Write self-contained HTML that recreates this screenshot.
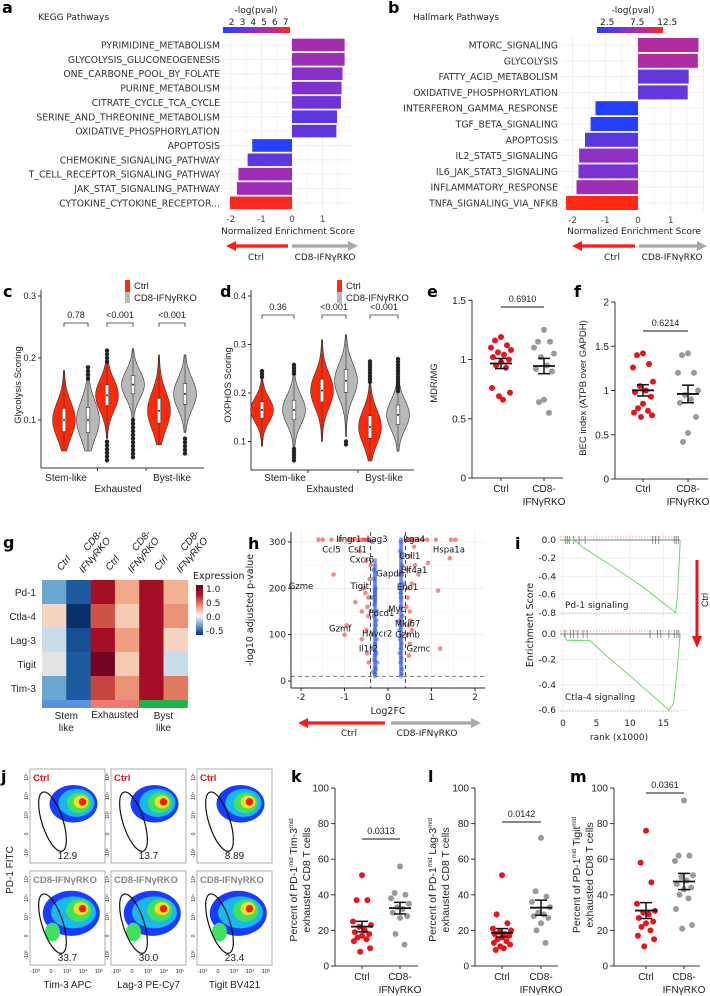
<!DOCTYPE html>
<html><head><meta charset="utf-8"><style>
html,body{margin:0;padding:0;background:#fff;}
svg{display:block;}
</style></head><body>
<svg id="fig" width="710" height="996" viewBox="0 0 710 996" xmlns="http://www.w3.org/2000/svg">
<defs>
<linearGradient id="pgrad" x1="0" x2="1" y1="0" y2="0"><stop offset="0" stop-color="#2040ff"/><stop offset="0.45" stop-color="#8a30c8"/><stop offset="0.75" stop-color="#c02a90"/><stop offset="1" stop-color="#ff2a10"/></linearGradient>
<linearGradient id="hgrad" x1="0" x2="0" y1="0" y2="1"><stop offset="0" stop-color="#67001f"/><stop offset="0.2" stop-color="#b2182b"/><stop offset="0.45" stop-color="#f4a582"/><stop offset="0.62" stop-color="#f7f7f7"/><stop offset="0.8" stop-color="#6aa6d0"/><stop offset="1" stop-color="#08306b"/></linearGradient>
</defs>
</svg>
<script>
// ---------- DATA ----------
const keggPathways=["PYRIMIDINE_METABOLISM","GLYCOLYSIS_GLUCONEOGENESIS","ONE_CARBONE_POOL_BY_FOLATE","PURINE_METABOLISM","CITRATE_CYCLE_TCA_CYCLE","SERINE_AND_THREONINE_METABOLISM","OXIDATIVE_PHOSPHORYLATION","APOPTOSIS","CHEMOKINE_SIGNALING_PATHWAY","T_CELL_RECEPTOR_SIGNALING_PATHWAY","JAK_STAT_SIGNALING_PATHWAY","CYTOKINE_CYTOKINE_RECEPTOR..."];
const keggNES=[1.72,1.72,1.65,1.62,1.6,1.47,1.45,-1.3,-1.45,-1.75,-1.8,-2.03];
const keggLogP=[4.9,4.6,3.9,3.7,3.3,2.7,2.9,1.4,2.8,4.6,4.6,7.2];
const keggTicks=[-2,-1,0,1];
const keggCbarTicks=[2,3,4,5,6,7];
const hallPathways=["MTORC_SIGNALING","GLYCOLYSIS","FATTY_ACID_METABOLISM","OXIDATIVE_PHOSPHORYLATION","INTERFERON_GAMMA_RESPONSE","TGF_BETA_SIGNALING","APOPTOSIS","IL2_STAT5_SIGNALING","IL6_JAK_STAT3_SIGNALING","INFLAMMATORY_RESPONSE","TNFA_SIGNALING_VIA_NFKB"];
const hallNES=[1.85,1.83,1.55,1.52,-1.3,-1.45,-1.62,-1.8,-1.82,-1.88,-2.2];
const hallLogP=[8,8,4,4,1,1,3.5,6,5,7,12.5];
const hallCbarTicks=[2.5,7.5,12.5];

const glyMed=[0.10,0.10,0.14,0.157,0.115,0.142];
const glySd=[0.028,0.03,0.025,0.022,0.03,0.025];
const glyLo=[0.05,0.05,0.07,0.09,0.06,0.08];
const glyHi=[0.18,0.185,0.212,0.215,0.205,0.205];
const glyP=["0.78","<0.001","<0.001"];
const glyTicks=[0.1,0.2,0.3];
const oxMed=[0.165,0.165,0.205,0.225,0.13,0.155];
const oxSd=[0.025,0.03,0.035,0.035,0.035,0.03];
const oxLo=[0.09,0.09,0.1,0.11,0.06,0.08];
const oxHi=[0.245,0.258,0.31,0.32,0.265,0.27];
const oxP=["0.36","<0.001","<0.001"];
const oxTicks=[0.1,0.2,0.3,0.4];

const mdrCtrl=[1.19,1.16,1.12,1.1,1.08,1.06,1.04,1.02,1.0,0.98,0.95,0.93,0.76,0.72,0.69,0.66];
const mdrKO=[1.25,1.15,1.15,1.1,1.05,1.02,0.95,0.92,0.9,0.66,0.64,0.55];
const becCtrl=[1.42,1.4,1.3,1.26,1.1,1.05,1.0,0.98,0.93,0.85,0.8,0.77,0.75,0.72,0.7];
const becKO=[1.42,1.4,1.2,1.2,1.0,0.95,0.9,0.86,0.7,0.52,0.42];

const hmRows=["Pd-1","Ctla-4","Lag-3","Tigit","Tim-3"];
const hmCols=["Ctrl","CD8-IFNγRKO","Ctrl","CD8-IFNγRKO","Ctrl","CD8-IFNγRKO"];
const hmPd1=[-0.3,-0.6,1.0,0.4,1.0,0.35];
const hmCtla4=[0.15,-0.8,0.75,0.2,1.0,0.5];
const hmLag3=[-0.1,-0.65,1.0,0.45,1.0,0.15];
const hmTigit=[0.0,-0.6,1.2,0.2,1.0,-0.1];
const hmTim3=[-0.3,-0.6,0.8,0.5,1.0,0.6];

const volRedFC=[-1.6,-1.5,-1.3,-1.1,-0.9,-0.8,-0.7,-0.6,-0.55,-0.5,-0.45,-0.42,-1.0,-0.95,-1.25,-0.75,-0.6,-0.55,-0.5,-0.45,-0.6,-0.5,-0.45,-0.42,-0.48,-0.44,-0.4,-0.65,-0.52,-0.47,0.45,0.5,0.55,0.6,0.7,0.8,0.9,1.1,1.45,1.55,1.42,1.2,1.15,0.5,0.45,0.55,0.45,0.5,0.48,0.44,0.5,0.46,0.42,0.52,0.6,0.7,0.62,0.48,0.92,0.55];
const volRedP=[305,305,305,305,305,305,305,305,305,305,305,305,100,120,230,170,150,200,260,140,90,110,180,220,60,40,250,280,190,160,305,305,305,305,305,305,305,305,305,305,265,70,195,270,240,210,180,150,120,100,80,200,160,130,290,230,250,55,255,110];
const volBlueFC=[-0.35,-0.3,-0.32,-0.38,-0.3,-0.28,-0.33,-0.3,-0.27,-0.31,-0.29,-0.34,-0.36,-0.26,-0.3,-0.32,-0.25,-0.28,-0.31,-0.29,-0.33,-0.27,-0.3,-0.3,0.3,0.28,0.32,0.27,0.31,0.3,0.29,0.33,0.28,0.3,0.31,0.27,0.29,0.32,0.35,0.26,0.3,0.34,0.28,0.3,0.31,0.29,0.27,0.3];
const volBlueP=[300,260,220,180,150,120,100,80,60,45,30,20,70,90,110,140,40,25,165,200,240,130,15,55,305,280,250,230,200,180,160,140,120,100,80,60,40,25,210,130,300,270,90,70,15,190,110,50];
const volLabels=["Ifngr1","Ccl5","Csf1","Lag3","Cxcr6","Gapdh","Tigit","Gzme","Itga4","Hspa1a","Coll1","Elf4a1","Eno1","Pdcd1","Myc","Mki67","Gzmf","Havcr2","Gzmb","Il1r2","Gzmc"];
const volLabelFC=[-0.9,-1.3,-0.7,-0.25,-0.6,0.05,-0.65,-2.0,0.6,1.4,0.5,0.6,0.45,-0.15,0.2,0.45,-1.1,-0.25,0.45,-0.45,0.7];
const volLabelP=[306,284,284,306,262,232,205,205,306,284,270,240,203,147,155,124,113,103,100,70,70];
const volTicksX=[-2,-1,0,1,2];
const volTicksY=[0,100,200,300];

const pdRank=[0,0.6,1.2,1.6,3,8,12,16.8,17.1,17.5];
const pdES=[0,-0.02,0,0,-0.08,-0.32,-0.52,-0.8,-0.6,0];
const pdHits=[0.4,0.7,1.0,1.6,2.4,3.3,13.4,13.8,14.3,16.6,16.9,17.2];
const ctRank=[0,0.6,1.5,4,6,10,15,15.8,16.5,17,17.5];
const ctES=[0,-0.05,-0.05,-0.05,-0.15,-0.33,-0.56,-0.6,-0.55,-0.3,0];
const ctHits=[0.3,1.1,1.6,2.2,3.0,3.6,13.0,14.1,14.6,15.8,16.6,17.0,17.3];
const rankTicks=[0,5,10,15];
const pdESTicks=[0,-0.2,-0.4,-0.6,-0.8];
const ctESTicks=[0,-0.2,-0.4,-0.6];

const flowPct=["12.9","13.7","8.89","33.7","30.0","23.4"];
const flowX=["Tim-3 APC","Lag-3 PE-Cy7","Tigit BV421"];

const kCtrl=[51,37,37,25,23,22,20,19,18,17,16,15,14,10,8];
const kKO=[56,41,40,38,35,33,32,30,28,27,18,12];
const lCtrl=[51,29,24,21,20,19,18,18,17,16,15,14,13,12,11,10,9];
const lKO=[72,42,39,36,33,30,29,28,27,24,20,13];
const mCtrl=[76,58,47,35,31,30,29,27,25,24,22,20,17,15,11];
const mKO=[93,62,62,59,51,50,48,46,44,43,40,38,32,23,21];
const pctTicks=[0,20,40,60,80,100];

// ---------- HELPERS ----------
const NS='http://www.w3.org/2000/svg';
const svg=document.getElementById('fig');
const DV='"DejaVu Sans", sans-serif';
const LS='"Liberation Sans", "DejaVu Sans", sans-serif';
function mk(tag,attrs,parent,name){
  const e=document.createElementNS(NS,tag);
  for(const k in attrs) e.setAttribute(k,attrs[k]);
  
  
  (parent||svg).appendChild(e);
  return e;
}
function T(parent,x,y,s,size,anchor,name,extra){
  const a={x:x,y:y,'font-size':size,'text-anchor':anchor||'start','font-family':LS,fill:'#222'};
  if(extra) for(const k in extra) a[k]=extra[k];
  const t=mk('text',a,parent,name);
  t.textContent=s;
  return t;
}
function L(parent,x1,y1,x2,y2,stroke,w,name,extra){
  const a={x1:x1,y1:y1,x2:x2,y2:y2,stroke:stroke,'stroke-width':w};
  if(extra) for(const k in extra) a[k]=extra[k];
  return mk('line',a,parent,name);
}
function arrow(parent,x1,x2,y,color,name){
  const dir=x2>x1?1:-1;
  L(parent,x1,y,x2-dir*9,y,color,3.2,name+'-shaft');
  mk('polygon',{points:`${x2},${y} ${x2-dir*10},${y-5} ${x2-dir*10},${y+5}`,fill:color},parent,name+'-head');
}
function lerpColor(c1,c2,t){
  const a=parseInt(c1.slice(1),16),b=parseInt(c2.slice(1),16);
  const r=Math.round(((a>>16)&255)*(1-t)+((b>>16)&255)*t);
  const g=Math.round(((a>>8)&255)*(1-t)+((b>>8)&255)*t);
  const bl=Math.round((a&255)*(1-t)+(b&255)*t);
  return `rgb(${r},${g},${bl})`;
}
function stopScale(stops,v){
  if(v<=stops[0][0]) return stops[0][1];
  for(let i=1;i<stops.length;i++){
    if(v<=stops[i][0]){const t=(v-stops[i-1][0])/(stops[i][0]-stops[i-1][0]);return lerpColor(stops[i-1][1],stops[i][1],t);}
  }
  return stops[stops.length-1][1];
}
const pStops=[[0,'#2040ff'],[0.45,'#8a30c8'],[0.75,'#c02a90'],[1,'#ff2a10']];
const hStops=[[-0.8,'#08306b'],[-0.55,'#2166ac'],[-0.3,'#6aa6d0'],[-0.1,'#c8dcea'],[0.05,'#f2e6e0'],[0.2,'#f7cbb3'],[0.45,'#f0a080'],[0.7,'#d6604d'],[1.0,'#a50f26'],[1.25,'#67001f']];

// ---------- PANELS A / B ----------
function barPanel(name,letter,title,labels,nes,logp,c){
  const g=mk('g',{},svg,name);
  T(g,c.letterX,c.letterY,letter,16,'start',name+'-letter',{'font-weight':'bold','font-family':DV,fill:'#000'});
  T(g,c.titleX,20,title,9,'start',name+'-title',{'font-family':DV});
  const X=v=>c.zero+v*c.unit;
  const y0=c.y0, y1=c.y0+(labels.length-1)*c.step;
  for(let v=-2.5;v<=2.0;v+=0.5){const x=X(v); if(x<c.px1||x>c.px2) continue; L(g,x,y0-c.step/2,x,y1+c.step/2,Number.isInteger(v)?'#e8e8e8':'#f3f3f3',0.8,name+'-vgrid');}
  labels.forEach((lab,i)=>{const y=y0+i*c.step; L(g,c.px1,y,c.px2,y,'#ececec',0.8,name+'-hgrid');});
  labels.forEach((lab,i)=>{
    const y=y0+i*c.step; const v=nes[i];
    const t=(logp[i]-c.cmin)/(c.cmax-c.cmin);
    mk('rect',{x:Math.min(X(0),X(v)),y:y-c.barH/2,width:Math.abs(X(v)-X(0)),height:c.barH,fill:stopScale(pStops,Math.max(0,Math.min(1,t)))},g,name+'-bar');
    T(g,c.labelX,y+3.5,lab,c.lfs,'end',name+'-pathway-label',{'font-family':DV,fill:'#333'});
  });
  keggTicks.forEach(v=>T(g,X(v),y1+c.step/2+12,String(v),9,'middle',name+'-x-tick',{'font-family':DV,fill:'#444'}));
  mk('rect',{x:c.cbx1,y:27,width:c.cbx2-c.cbx1,height:6,fill:'url(#pgrad)'},g,name+'-colorbar');
  T(g,c.cbTitleX,13,'-log(pval)',9,'middle',name+'-colorbar-title',{'font-family':DV});
  c.cbTicks.forEach(v=>T(g,c.cbx1+(v-c.cmin)/(c.cmax-c.cmin)*(c.cbx2-c.cbx1),25,String(v),9,'middle',name+'-colorbar-tick',{'font-family':DV}));
  T(g,c.nesX,234,'Normalized Enrichment Score',9,'middle',name+'-x-title',{'font-family':DV});
  arrow(g,c.arrowMid-2,c.arrowL,246,'#ff1a1a',name+'-ctrl-arrow');
  arrow(g,c.arrowMid+2,c.arrowR,246,'#a8a8a8',name+'-ko-arrow');
  T(g,c.ctrlX,260,'Ctrl',9,'middle',name+'-ctrl-label',{'font-family':DV});
  T(g,c.koX,260,'CD8-IFNγRKO',9,'middle',name+'-ko-label',{'font-family':DV});
}
barPanel('panel-a','a','KEGG Pathways',keggPathways,keggNES,keggLogP,{letterX:2,letterY:13,titleX:38,zero:292,unit:30.6,y0:45,step:14.35,barH:12.6,labelX:220,lfs:9.3,px1:215,px2:352,cmin:1.2,cmax:7.4,cbx1:223,cbx2:290,cbTicks:keggCbarTicks,cbTitleX:256,nesX:288,arrowL:226,arrowR:358,arrowMid:290,ctrlX:256,koX:325});
barPanel('panel-b','b','Hallmark Pathways',hallPathways,hallNES,hallLogP,{letterX:388,letterY:13,titleX:413,zero:638,unit:32.7,y0:45,step:15.8,barH:14,labelX:558,lfs:9.3,px1:562,px2:705,cmin:0.8,cmax:11.8,cbx1:597,cbx2:663,cbTicks:hallCbarTicks,cbTitleX:633,nesX:634,arrowL:572,arrowR:707,arrowMid:637,ctrlX:612,koX:672});

// ---------- VIOLINS C / D ----------
function violinPanel(name,letter,c,med,sd,lo,hi,pv,ticks,ytitle){
  const g=mk('g',{},svg,name);
  T(g,c.letterX,297,letter,16,'start',name+'-letter',{'font-weight':'bold','font-family':DV,fill:'#000'});
  const Y=v=>c.yRef-(v-c.vRef)*c.ppu;
  L(g,c.ax,c.yTop,c.ax,c.yBot,'#333',1,name+'-y-axis');
  L(g,c.ax,c.yBot,c.axR,c.yBot,'#333',1,name+'-x-axis');
  ticks.forEach(v=>{L(g,c.ax-3,Y(v),c.ax,Y(v),'#333',1,name+'-y-tickmark');T(g,c.ax-5,Y(v)+3,String(v),9,'end',name+'-y-tick');});
  T(g,0,0,ytitle,9.5,'middle',name+'-y-title',{transform:`translate(${c.ax-20},${c.yTitleY}) rotate(-90)`});
  med.forEach((m,i)=>{
    const cx=c.xs[i]; const col=i%2===0?'#ff2a0a':'#b8b8b8';
    let right=[],left=[];
    for(let k=0;k<=40;k++){
      const v=lo[i]+(hi[i]-lo[i])*k/40;
      const hw=c.W*Math.exp(-0.5*Math.pow((v-m)/sd[i],2))+0.4;
      right.push(`${cx+hw},${Y(v)}`); left.unshift(`${cx-hw},${Y(v)}`);
    }
    mk('polygon',{points:right.concat(left).join(' '),fill:col,stroke:'#333','stroke-width':0.6},g,name+'-violin');
    L(g,cx,Y(hi[i]),cx,Y(lo[i]),'#333',0.6,name+'-whisker');
    mk('rect',{x:cx-1.8,y:Y(m+0.67*sd[i]),width:3.6,height:1.34*sd[i]*c.ppu,fill:'#fff',stroke:'#333','stroke-width':0.6},g,name+'-box');
    mk('circle',{cx:cx,cy:Y(m),r:1,fill:'#222'},g,name+'-median');
  });
  c.outIdx.forEach((i,j)=>{
    for(let v=c.outFrom[j];v>=c.outTo[j];v-=0.006) mk('circle',{cx:c.xs[i],cy:Y(v),r:2.2,fill:'#222'},g,name+'-outlier');
  });
  pv.forEach((p,j)=>{
    const x1=c.xs[2*j],x2=c.xs[2*j+1];
    mk('path',{d:`M${x1},${c.bY+4}V${c.bY}H${x2}V${c.bY+4}`,fill:'none',stroke:'#333','stroke-width':0.8},g,name+'-bracket');
    T(g,(x1+x2)/2,c.bY-5,p,9,'middle',name+'-p-value');
  });
  for(let j=1;j<3;j++){const xm=(c.xs[2*j-1]+c.xs[2*j])/2;L(g,xm,c.yBot,xm,c.yBot+3,'#333',1,name+'-group-tick');}
  T(g,c.gx[0],481,'Stem-like',10,'middle',name+'-group-label');
  T(g,c.gx[1],492,'Exhausted',10,'middle',name+'-group-label');
  T(g,c.gx[2],481,'Byst-like',10,'middle',name+'-group-label');
  mk('rect',{x:c.legX,y:280,width:5,height:12,fill:'#ff2a0a'},g,name+'-legend-ctrl-swatch');
  mk('rect',{x:c.legX,y:292,width:5,height:11,fill:'#b8b8b8'},g,name+'-legend-ko-swatch');
  T(g,c.legX+9,289,'Ctrl',9.5,'start',name+'-legend-ctrl');
  T(g,c.legX+9,301,'CD8-IFNγRKO',9.5,'start',name+'-legend-ko');
}
violinPanel('panel-c','c',{letterX:3,ax:41,axR:204,yTop:290,yBot:468,yRef:420,vRef:0.1,ppu:620,W:11,xs:[64,88,107,133,159,185],yTitleY:385,bY:323,gx:[66,118,172],legX:125,outIdx:[1,2,2,3,5],outFrom:[0.185,0.212,0.065,0.1,0.07],outTo:[0.165,0.19,0.035,0.035,0.045]},glyMed,glySd,glyLo,glyHi,glyP,glyTicks,'Glycolysis Scoring');
violinPanel('panel-d','d',{letterX:220,ax:251,axR:414,yTop:290,yBot:470,yRef:393,vRef:0.2,ppu:485,W:11,xs:[262,294,322,346,370,398],yTitleY:385,bY:315,gx:[285,330,384],legX:337,outIdx:[0,1,1,3,4,5],outFrom:[0.245,0.258,0.085,0.1,0.265,0.27],outTo:[0.23,0.235,0.06,0.09,0.22,0.2]},oxMed,oxSd,oxLo,oxHi,oxP,oxTicks,'OXPHOS Scoring');

// ---------- DOT PLOTS ----------
function mean(a){return a.reduce((s,v)=>s+v,0)/a.length;}
function sem(a){const m=mean(a);return Math.sqrt(a.reduce((s,v)=>s+(v-m)*(v-m),0)/(a.length-1))/Math.sqrt(a.length);}
const jit=[0,-6,6,-10,10,-3,3,-8,8,0,-5,5,-9,9,-2,2,-7];
function dotPanel(name,letter,c,ctrl,ko,p,ticks,title){
  const g=mk('g',{},svg,name);
  T(g,c.letterX,c.letterY,letter,16,'start',name+'-letter',{'font-weight':'bold','font-family':DV,fill:'#000'});
  const Y=v=>c.y0-v*c.ppu;
  L(g,c.ax,Y(ticks[ticks.length-1]),c.ax,Y(0),'#333',1,name+'-y-axis');
  L(g,c.ax,Y(0),c.axR,Y(0),'#333',1,name+'-x-axis');
  ticks.forEach(v=>{L(g,c.ax-4,Y(v),c.ax,Y(v),'#333',1,name+'-y-tickmark');T(g,c.ax-6,Y(v)+3.5,String(v),c.fs,'end',name+'-y-tick');});
  [c.xc,c.xk].forEach(x=>L(g,x,Y(0),x,Y(0)+3,'#333',1,name+'-x-tickmark'));
  title.forEach((line,i)=>{const t=T(g,0,0,'',c.tfs||9.5,'middle',name+'-y-title',{transform:`translate(${c.tx[i]},${c.ty}) rotate(-90)`});
    line.forEach(part=>{const s=mk('tspan',part[1]?{'font-size':6,dy:-4}:{dy:part[2]||0},t,name+'-y-title-part');s.textContent=part[0];});});
  [[ctrl,c.xc,'#e8141c'],[ko,c.xk,'#9a9a9a']].forEach(([arr,x,col],gi)=>{
    arr.forEach((v,i)=>mk('circle',{cx:x+jit[i%jit.length]*c.js,cy:Y(v),r:3,fill:col},g,name+(gi?'-ko-point':'-ctrl-point')));
    const m=mean(arr),s=sem(arr);
    L(g,x-11,Y(m),x+11,Y(m),'#111',1.8,name+'-mean');
    L(g,x-6,Y(m+s),x+6,Y(m+s),'#111',1.5,name+'-sem-top');
    L(g,x-6,Y(m-s),x+6,Y(m-s),'#111',1.5,name+'-sem-bottom');
    L(g,x,Y(m+s),x,Y(m-s),'#111',1.5,name+'-sem-bar');
  });
  L(g,c.xc,c.pY,c.xk,c.pY,'#111',1,name+'-p-line');
  T(g,(c.xc+c.xk)/2,c.pY-5,p,9,'middle',name+'-p-value');
  T(g,c.xc,c.lY,'Ctrl',10,'middle',name+'-x-label-ctrl');
  T(g,c.xk,c.lY,'CD8-',10,'middle',name+'-x-label-ko');
  T(g,c.xk,c.lY+13,'IFNγRKO',10,'middle',name+'-x-label-ko2');
}
dotPanel('panel-e','e',{letterX:427,letterY:297,ax:472,axR:563,y0:478,ppu:118.5,xc:501,xk:544,js:1,pY:307,lY:492,fs:10,tx:[437],ty:383},mdrCtrl,mdrKO,'0.6910',[0,0.5,1.0,1.5],[[['MDR/MG']]]);
dotPanel('panel-f','f',{letterX:574,letterY:297,ax:615,axR:708,y0:479,ppu:88.5,xc:643,xk:688,js:1,pY:331,lY:492,fs:10,tx:[586],ty:388},becCtrl,becKO,'0.6214',[0,0.5,1.0,1.5,2.0],[[['BEC index (ATPB over GAPDH)']]]);
dotPanel('panel-k','k',{letterX:291,letterY:782,ax:335,axR:418,y0:966,ppu:1.78,xc:362,xk:400,js:0.9,pY:839,lY:980,fs:10,tfs:10.5,tx:[297,310],ty:880},kCtrl,kKO,'0.0313',pctTicks,[[['Percent of PD-1'],['mid',1],[' Tim-3',0,4],['mid',1]],[['exhausted CD8 T cells']]]);
dotPanel('panel-l','l',{letterX:428,letterY:782,ax:475,axR:558,y0:966,ppu:1.78,xc:502,xk:541,js:0.9,pY:822,lY:980,fs:10,tfs:10.5,tx:[436,449],ty:880},lCtrl,lKO,'0.0142',pctTicks,[[['Percent of PD-1'],['mid',1],[' Lag-3',0,4],['mid',1]],[['exhausted CD8 T cells']]]);
dotPanel('panel-m','m',{letterX:570,letterY:782,ax:614,axR:700,y0:966,ppu:1.78,xc:646,xk:684,js:0.9,pY:793,lY:980,fs:10,tfs:10.5,tx:[580,593],ty:875},mCtrl,mKO,'0.0361',pctTicks,[[['Percent of PD-1'],['mid',1],[' Tigit',0,4],['mid',1]],[['exhausted CD8 T cells']]]);

// ---------- HEATMAP G ----------
(function(){
  const g=mk('g',{},svg,'panel-g');
  T(g,3,548,'g',16,'start','panel-g-letter',{'font-weight':'bold','font-family':DV,fill:'#000'});
  const hm=[hmPd1,hmCtla4,hmLag3,hmTigit,hmTim3];
  const x0=42,cw=24.3,y0=580,rh=24;
  hm.forEach((row,r)=>{
    row.forEach((v,ci)=>mk('rect',{x:x0+ci*cw,y:y0+r*rh,width:cw+0.3,height:rh+0.3,fill:stopScale(hStops,v)},g,'heatmap-cell'));
    T(g,36,y0+r*rh+rh/2+4,hmRows[r],10,'end','heatmap-row-label');
  });
  L(g,x0+2*cw,y0+5*rh,x0+2*cw,y0+5*rh+8,'#222',0.6,'heatmap-separator');
  L(g,x0+4*cw,y0+5*rh,x0+4*cw,y0+5*rh+8,'#222',0.6,'heatmap-separator');
  ['#5b8fe0','#f07a72','#1fb14a'].forEach((col,i)=>mk('rect',{x:x0+i*2*cw,y:y0+5*rh,width:2*cw,height:8,fill:col},g,'group-bar'));
  hmCols.forEach((lab,ci)=>{
    const cx=x0+ci*cw+cw/2;
    const hg=mk('g',{transform:`translate(${cx+3},${576}) rotate(-50)`},g,'heatmap-col-header');
    if(lab==='Ctrl') T(hg,22,0,'Ctrl',10,'end','heatmap-col-label',{'font-style':'italic'});
    else {T(hg,46,-11,'CD8-',10,'end','heatmap-col-label',{'font-style':'italic'});
      T(hg,46,0,'IFNγRKO',10,'end','heatmap-col-label',{'font-style':'italic'});}
  });
  T(g,x0+cw,719,'Stem',10,'middle','group-label');T(g,x0+cw,731,'like',10,'middle','group-label');
  T(g,x0+3*cw,718,'Exhausted',10,'middle','group-label');
  T(g,x0+5*cw,719,'Byst',10,'middle','group-label');T(g,x0+5*cw,731,'like',10,'middle','group-label');
  T(g,193,579,'Expression',9.5,'start','legend-title',{'font-family':DV});
  mk('rect',{x:196,y:585,width:7,height:50,fill:'url(#hgrad)'},g,'legend-colorbar');
  [['1.0',592],['0.5',606],['0.0',620],['-0.5',634]].forEach(([s,y])=>T(g,206,y,s,9,'start','legend-tick',{'font-family':DV}));
})();

// ---------- VOLCANO H ----------
(function(){
  const g=mk('g',{},svg,'panel-h');
  T(g,248,549,'h',16,'start','panel-h-letter',{'font-weight':'bold','font-family':DV,fill:'#000'});
  const X=v=>388+v*43.5, Y=v=>681-v*0.4633;
  volTicksX.forEach(v=>L(g,X(v),532,X(v),688,'#ebebeb',0.8,'h-vgrid'));
  [-1.5,-0.5,0.5,1.5].forEach(v=>L(g,X(v),532,X(v),688,'#f4f4f4',0.6,'h-vgrid-minor'));
  volTicksY.forEach(v=>L(g,291,Y(v),485,Y(v),'#ebebeb',0.8,'h-hgrid'));
  [50,150,250].forEach(v=>L(g,291,Y(v),485,Y(v),'#f4f4f4',0.6,'h-hgrid-minor'));
  volBlueFC.forEach((v,i)=>mk('circle',{cx:X(v),cy:Y(volBlueP[i]),r:2.3,fill:'#3c64e0','fill-opacity':0.6},g,'h-point-ns'));
  for(let p=10;p<=300;p+=4){mk('circle',{cx:X(-0.3),cy:Y(p<200?p:p*0.85),r:2.2,fill:'#3c64e0','fill-opacity':0.45},g,'h-point-ns');
    mk('circle',{cx:X(0.3),cy:Y(p),r:2.2,fill:'#3c64e0','fill-opacity':0.45},g,'h-point-ns');}
  volRedFC.forEach((v,i)=>mk('circle',{cx:X(v),cy:Y(volRedP[i]),r:2.3,fill:'#ee2a2a','fill-opacity':0.55},g,'h-point-sig'));
  L(g,X(-0.4),532,X(-0.4),688,'#222',0.8,'h-fc-threshold',{'stroke-dasharray':'4,3'});
  L(g,X(0.4),532,X(0.4),688,'#222',0.8,'h-fc-threshold',{'stroke-dasharray':'4,3'});
  L(g,291,Y(10),485,Y(10),'#777',0.9,'h-p-threshold',{'stroke-dasharray':'4,3'});
  L(g,291,532,291,688,'#222',1,'h-y-axis');L(g,291,688,485,688,'#222',1,'h-x-axis');
  volTicksX.forEach(v=>{L(g,X(v),688,X(v),691,'#222',1,'h-x-tickmark');T(g,X(v),700,String(v),9,'middle','h-x-tick',{'font-family':DV});});
  volTicksY.forEach(v=>{L(g,288,Y(v),291,Y(v),'#222',1,'h-y-tickmark');T(g,286,Y(v)+3,String(v),9,'end','h-y-tick',{'font-family':DV});});
  volLabels.forEach((s,i)=>T(g,X(volLabelFC[i]),Y(volLabelP[i])+3,s,8.5,'middle','h-gene-label',{'font-family':DV,fill:'#111'}));
  T(g,0,0,'-log10 adjusted p-value',9.5,'middle','h-y-title',{transform:'translate(253,610) rotate(-90)','font-family':DV});
  T(g,388,714,'Log2FC',9.5,'middle','h-x-title',{'font-family':DV});
  arrow(g,385,298,723,'#ff1a1a','h-ctrl-arrow');
  arrow(g,391,481,723,'#a8a8a8','h-ko-arrow');
  T(g,349,736,'Ctrl',9,'middle','h-ctrl-label',{'font-family':DV});
  T(g,427,736,'CD8-IFNγRKO',9,'middle','h-ko-label',{'font-family':DV});
})();

// ---------- GSEA I ----------
(function(){
  const g=mk('g',{},svg,'panel-i');
  T(g,515,549,'i',16,'start','panel-i-letter',{'font-weight':'bold','font-family':DV,fill:'#000'});
  const X=r=>563+r*6.7;
  function sub(name,rank,es,hits,ticks,y0,ppu,yTop,yBot,label,labelY){
    const Y=v=>y0-v*ppu;
    rankTicks.forEach(r=>L(g,X(r),yTop,X(r),yBot,'#eeeeee',0.8,name+'-vgrid'));
    ticks.forEach(v=>L(g,560,Y(v),688,Y(v),'#eeeeee',0.8,name+'-hgrid'));
    L(g,560,Y(0),680,Y(0),'#555',0.8,name+'-zero-line');
    L(g,560,Y(0)-3,680,Y(0)-3,'#e88',0.7,name+'-ref-line',{'stroke-dasharray':'1.5,1.5'});
    const mn=Math.min.apply(null,es);
    L(g,560,Y(mn)+1,680,Y(mn)+1,'#e88',0.7,name+'-min-line',{'stroke-dasharray':'1.5,1.5'});
    hits.forEach(r=>L(g,X(r),Y(0)-4,X(r),Y(0)+4,'#666',0.7,name+'-hit'));
    mk('polyline',{points:rank.map((r,i)=>`${X(r)},${Y(es[i])}`).join(' '),fill:'none',stroke:'#6fd66f','stroke-width':1},g,name+'-curve');
    ticks.forEach(v=>T(g,556,Y(v)+3,v.toFixed(1),9,'end',name+'-y-tick',{'font-family':DV}));
    T(g,565,labelY,label,9,'start',name+'-label',{'font-family':DV});
  }
  sub('i-pd1',pdRank,pdES,pdHits,pdESTicks,540,91,532,618,'Pd-1 signaling',608);
  sub('i-ctla4',ctRank,ctES,ctHits,ctESTicks,634,127,622,714,'Ctla-4 signaling',700);
  rankTicks.forEach(r=>T(g,X(r),726,String(r),9,'middle','i-x-tick',{'font-family':DV}));
  T(g,619,740,'rank (x1000)',9,'middle','i-x-title',{'font-family':DV});
  T(g,0,0,'Enrichment Score',9.5,'middle','i-y-title',{transform:'translate(533,625) rotate(-90)','font-family':DV});
  L(g,697,560,697,636,'#e8141c',3,'i-ctrl-arrow-shaft');
  mk('polygon',{points:'697,648 692,636 702,636',fill:'#e8141c'},g,'i-ctrl-arrow-head');
  T(g,0,0,'Ctrl',9,'middle','i-ctrl-label',{transform:'translate(708,600) rotate(-90)'});
})();

// ---------- FLOW J ----------
(function(){
  const g=mk('g',{},svg,'panel-j');
  T(g,1,782,'j',16,'start','panel-j-letter',{'font-weight':'bold','font-family':DV,fill:'#000'});
  const cols=[30,111,197],rows=[769,871],w=75,h=94;
  const layers1=[[0.58,0.37,0.32,0.2,'#1a3cff'],[0.62,0.36,0.24,0.15,'#18b8f0'],[0.65,0.36,0.16,0.11,'#40e060'],[0.68,0.35,0.1,0.07,'#f0e020'],[0.7,0.35,0.05,0.04,'#f02010']];
  const layers2=[[0.55,0.45,0.38,0.24,'#1a3cff'],[0.58,0.44,0.3,0.17,'#18b8f0'],[0.3,0.65,0.1,0.1,'#40e060'],[0.65,0.42,0.17,0.12,'#40e060'],[0.68,0.4,0.1,0.07,'#f0e020'],[0.7,0.4,0.05,0.04,'#f02010']];
  rows.forEach((by,ri)=>cols.forEach((bx,ci)=>{
    const idx=ri*3+ci;
    mk('rect',{x:bx,y:by,width:w,height:h,fill:'#fff',stroke:'#999','stroke-width':0.8},g,'flow-plot-frame');
    (ri?layers2:layers1).forEach(l=>mk('ellipse',{cx:bx+l[0]*w,cy:by+l[1]*h,rx:l[2]*w,ry:l[3]*h,fill:l[4]},g,'flow-density'));
    mk('ellipse',{cx:bx+0.3*w,cy:by+0.56*h,rx:0.14*w,ry:0.33*h,fill:'none',stroke:'#111','stroke-width':1.2,transform:`rotate(-18 ${bx+0.3*w} ${by+0.56*h})`},g,'flow-gate');
    T(g,bx+3,by+12,ri?'CD8-IFNγRKO':'Ctrl',9.5,'start','flow-sample-label',{'font-weight':'bold',fill:ri?'#888':'#e8141c'});
    T(g,bx+0.5*w,by+h-4,flowPct[idx],10,'middle','flow-gate-percent');
    ['10⁵','10⁴','10³','0','-10³'].forEach((s,k)=>T(g,0,0,s,5,'middle','flow-y-tick',{transform:`translate(${bx-2},${by+8+k*19}) rotate(-90)`}));
  }));
  cols.forEach((bx,ci)=>{
    ['-10³','0','10³','10⁴','10⁵'].forEach((s,k)=>T(g,bx+5+k*16,973,s,5.5,'middle','flow-x-tick'));
    T(g,bx+w/2,988,flowX[ci],10,'middle','flow-x-title');
  });
  T(g,0,0,'PD-1 FITC',10,'middle','flow-y-title',{transform:'translate(13,870) rotate(-90)'});
})();
</script>
</body></html>
